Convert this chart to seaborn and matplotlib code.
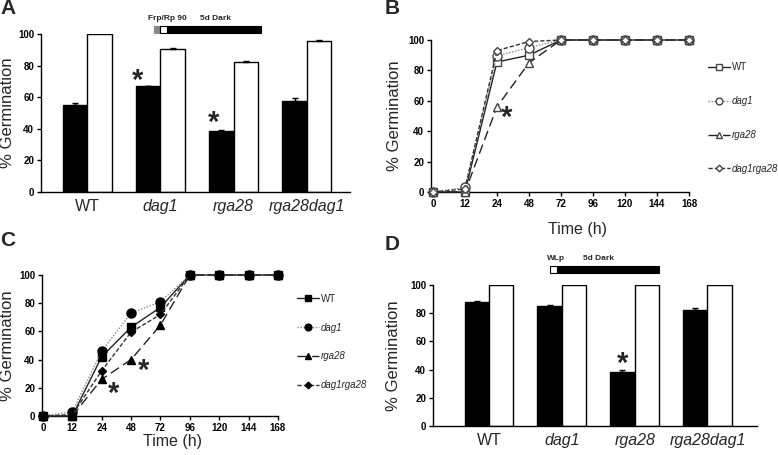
import numpy as np
import pandas as pd
import matplotlib
matplotlib.use("Agg")
import matplotlib.pyplot as plt
from matplotlib.patches import Rectangle
import seaborn as sns

sns.set_style("ticks")
plt.rcParams['font.family'] = ['Liberation Sans', 'DejaVu Sans']

# ---------------- data ----------------
genotypes = ["WT", "dag1", "rga28", "rga28dag1"]
genotype_italic = [False, True, True, True]

# Panel A (Frp/Rp 90 then 5d dark)
a_dark = [55, 67, 38.5, 57.5]
a_dark_err = [1.2, 0.3, 0.7, 2.0]
a_light = [100, 90.5, 82.5, 95.5]
a_light_err = [0, 0.6, 0.4, 0.4]

# Panel D (WLp then 5d dark)
d_dark = [88, 85, 38.5, 82.5]
d_dark_err = [0.7, 0.6, 1.5, 1.5]
d_light = [100, 100, 100, 100]
d_light_err = [0, 0, 0, 0]

# Panels B and C (time courses)
times = ["0", "12", "24", "48", "72", "96", "120", "144", "168"]
series_names = ["WT", "dag1", "rga28", "dag1rga28"]
b_wt = [0, 0, 85.5, 90, 100, 100, 100, 100, 100]
b_dag1 = [0, 3, 89.5, 95, 100, 100, 100, 100, 100]
b_rga28 = [0, 0, 56, 85, 100, 100, 100, 100, 100]
b_dag1rga28 = [0, 2, 93, 99, 100, 100, 100, 100, 100]

c_wt = [0, 0, 42, 63, 77, 100, 100, 100, 100]
c_dag1 = [0, 3, 46, 73, 81, 100, 100, 100, 100]
c_rga28 = [0, 0, 26, 40, 64.5, 100, 100, 100, 100]
c_dag1rga28 = [0, 1, 32, 59.5, 72, 100, 100, 100, 100]

W, H = 778, 455
fig = plt.figure(figsize=(W / 100, H / 100), dpi=100)


def ax_px(l, t, r, b):
    return fig.add_axes([l / W, 1 - b / H, (r - l) / W, (b - t) / H])


TICK_FS = 7
LABEL_FS = 12
CAT_FS = 11.5
STAR_FS = 21


def style_axis(ax):
    sns.despine(ax=ax)
    for s in ("left", "bottom"):
        ax.spines[s].set_linewidth(1.0)
        ax.spines[s].set_color("black")
    ax.set_ylim(0, 100)
    ax.set_yticks([0, 20, 40, 60, 80, 100])
    ax.tick_params(axis="y", length=3, width=1, pad=2, labelsize=TICK_FS, colors="black")
    for t in ax.get_yticklabels():
        t.set_fontweight("bold")
    ax.grid(False)


def bar_panel(ax, dark, dark_err, light, light_err, xlim):
    df = pd.DataFrame({
        "genotype": genotypes * 2,
        "cond": ["dark"] * 4 + ["light"] * 4,
        "value": list(dark) + list(light),
    })
    sns.barplot(data=df, x="genotype", y="value", hue="cond", ax=ax,
                palette={"dark": "black", "light": "white"}, edgecolor="black",
                linewidth=1, width=0.67, gap=0, legend=False, errorbar=None,
                saturation=1)
    for cont, errs in zip(ax.containers, [dark_err, light_err]):
        for p, e in zip(cont.patches, errs):
            if e > 0:
                xc = p.get_x() + p.get_width() / 2
                ax.errorbar(xc, p.get_height(), yerr=[[0], [e]], color="black",
                            capsize=2.5, elinewidth=1, capthick=1, zorder=5)
    style_axis(ax)
    ax.set_xlim(*xlim)
    ax.set_xlabel("")
    ax.set_ylabel("% Germination", fontsize=LABEL_FS)
    ax.tick_params(axis="x", length=0, pad=5)
    ax.set_xticks(range(4))
    ax.set_xticklabels(genotypes, fontsize=CAT_FS)
    for t, it in zip(ax.get_xticklabels(), genotype_italic):
        t.set_fontstyle("italic" if it else "normal")


def line_panel(ax, data, filled, xlim):
    idx = np.arange(len(times))
    styles = [
        dict(color="#222222", linestyle="-", marker="s", ms=5.5),
        dict(color="#8a8a8a", linestyle=(0, (1, 1.2)), marker="o", ms=6.5),
        dict(color="#222222", linestyle=(0, (7, 3.5)), marker="^", ms=6),
        dict(color="#333333", linestyle=(0, (3, 1.5)), marker="D", ms=4.5),
    ]
    for name, vals, st in zip(series_names, data, styles):
        face = "black" if filled else "white"
        edge = "black" if filled else "#444444"
        sns.lineplot(x=idx, y=vals, ax=ax, color=st["color"], linestyle=st["linestyle"],
                     marker=st["marker"], markersize=st["ms"], markerfacecolor=face,
                     markeredgecolor=edge, markeredgewidth=1, linewidth=1,
                     label=name, clip_on=False, zorder=3)
    style_axis(ax)
    ax.set_xlim(*xlim)
    ax.set_xticks(idx)
    ax.set_xticklabels(times)
    ax.tick_params(axis="x", length=3, width=1, pad=2, labelsize=TICK_FS, colors="black")
    for t in ax.get_xticklabels():
        t.set_fontweight("bold")
    ax.set_ylabel("% Germination", fontsize=LABEL_FS)
    ax.set_xlabel("Time (h)", fontsize=CAT_FS)


def star(ax, x, y):
    ax.text(x, y, "*", ha="center", va="center", fontsize=STAR_FS, fontweight="bold")


# ---------------- Panel A ----------------
axA = ax_px(41, 34, 350, 192)
bar_panel(axA, a_dark, a_dark_err, a_light, a_light_err, (-0.63, 3.59))
axA.yaxis.set_label_coords(-0.084, 0.5)
star(axA, 0.85 - 0.167, 70)
star(axA, 2 - 0.167 - 0.1, 44)

# ---------------- Panel B ----------------
axB = ax_px(431, 40, 689, 192)
line_panel(axB, [b_wt, b_dag1, b_rga28, b_dag1rga28], False, (-0.06, 8.0))
axB.yaxis.set_label_coords(-0.112, 0.5)
axB.xaxis.set_label_coords(0.566, -0.2)
star(axB, 2.3, 49)

# ---------------- Panel C ----------------
axC = ax_px(42, 275, 278, 416)
line_panel(axC, [c_wt, c_dag1, c_rga28, c_dag1rga28], True, (-0.03, 8.0))
axC.yaxis.set_label_coords(-0.114, 0.5)
axC.xaxis.set_label_coords(0.555, -0.125)
star(axC, 2.4, 16)
star(axC, 3.43, 32)

# ---------------- Panel D ----------------
axD = ax_px(433, 285, 757, 426)
bar_panel(axD, d_dark, d_dark_err, d_light, d_light_err, (-0.77, 3.68))
axD.yaxis.set_label_coords(-0.099, 0.5)
star(axD, 2 - 0.167, 44)

# ---------------- legends ----------------
for ax, (x0, yc) in [(axB, (703, 118)), (axC, (292, 342))]:
    leg = ax.legend(loc="center left", bbox_to_anchor=(x0 / W, 1 - yc / H),
                    bbox_transform=fig.transFigure, frameon=False, fontsize=7,
                    handlelength=2.3, handletextpad=0.2, markerscale=0.75,
                    labelspacing=2.45 if ax is axB else 1.95, borderpad=0)
    for t in leg.get_texts():
        if t.get_text() != "WT":
            t.set_fontstyle("italic")

# ---------------- light treatment schematics ----------------
def rect(x0, y0, x1, y1, fc):
    fig.patches.append(Rectangle((x0 / W, 1 - y1 / H), (x1 - x0) / W, (y1 - y0) / H,
                                 transform=fig.transFigure, facecolor=fc,
                                 edgecolor="black" if fc == "white" else fc, lw=0.8))

rect(154, 26, 160, 33, "#888888")
rect(160, 26, 167, 33, "white")
rect(167, 26, 261, 33, "black")
fig.text(148 / W, 1 - 19 / H, "Frp/Rp 90", fontsize=6, fontweight="bold", va="center")
fig.text(200 / W, 1 - 19 / H, "5d Dark", fontsize=6, fontweight="bold", va="center")

rect(557, 266, 659, 273, "black")
rect(550, 266, 557, 273, "white")
fig.text(547 / W, 1 - 258 / H, "WLp", fontsize=6, fontweight="bold", va="center")
fig.text(583 / W, 1 - 258 / H, "5d Dark", fontsize=6, fontweight="bold", va="center")

# ---------------- panel letters ----------------
for lab, x, y in [("A", 0, 8), ("B", 385, 8), ("C", 0, 240), ("D", 385, 245)]:
    fig.text(x / W, 1 - y / H, lab, fontsize=15, fontweight="bold", va="center")

fig.savefig("out.png", dpi=100)
